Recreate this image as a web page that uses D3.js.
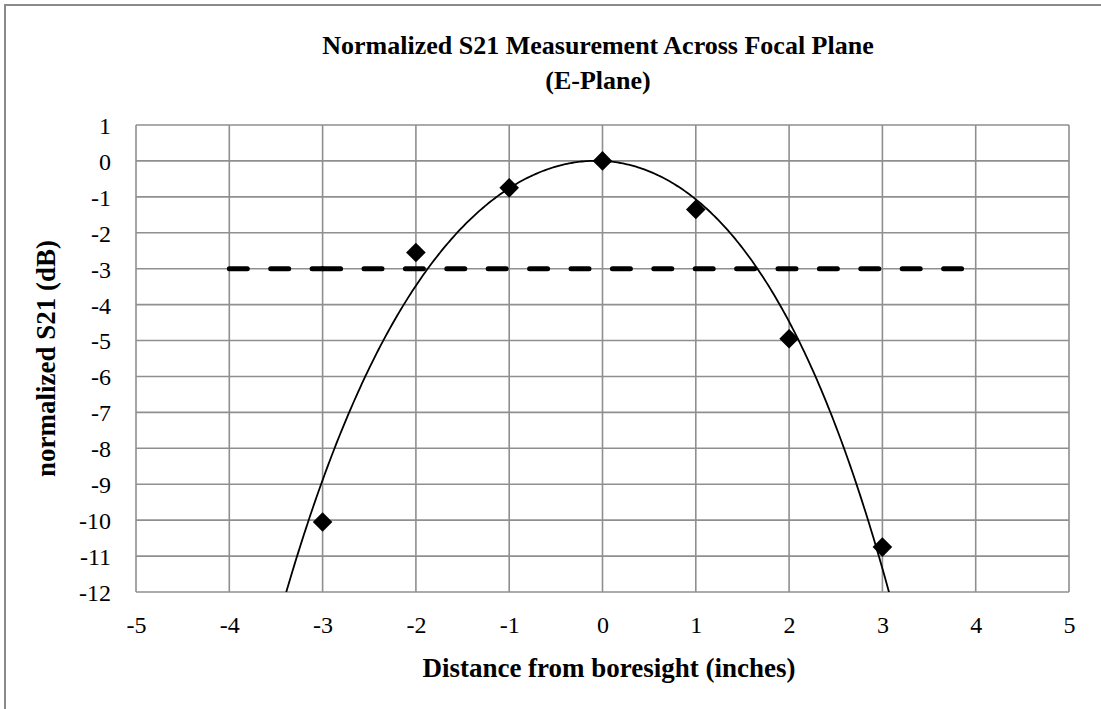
<!DOCTYPE html>
<html>
<head>
<meta charset="utf-8">
<script src="https://cdn.jsdelivr.net/npm/d3@7"></script>
<style>
  html, body { margin: 0; padding: 0; background: #fff; }
  svg { display: block; }
  svg text { font-family: "Liberation Serif", "Times New Roman", Times, "DejaVu Serif", serif !important; fill: #000; }
</style>
</head>
<body>
<svg id="chart" width="1101" height="709"></svg>
<script>
// ---- data ----
const titleLines = ["Normalized S21 Measurement Across Focal Plane", "(E-Plane)"];
const xAxisTitle = "Distance from boresight (inches)";
const yAxisTitle = "normalized S21 (dB)";
const xTicks = [-5, -4, -3, -2, -1, 0, 1, 2, 3, 4, 5];
const yTicks = [1, 0, -1, -2, -3, -4, -5, -6, -7, -8, -9, -10, -11, -12];
const measX = [-3, -2, -1, 0, 1, 2, 3];
const measY = [-10.05, -2.55, -0.75, 0, -1.35, -4.95, -10.75];
// -3 dB reference line vertices
const refX = [-4, -3, 4];
const refY = [-3, -3, -3];
// polynomial trendline coefficients (c0 + c1 x + c2 x^2 + c3 x^3 + c4 x^4)
const trendCoef = [0.0, -0.123, -0.889, -0.0319, -0.0261];

// ---- layout ----
const svg = d3.select("#chart");
const x = d3.scaleLinear().domain([-5, 5]).range([136, 1069]);
const y = d3.scaleLinear().domain([-12, 1]).range([592, 125]);
const gridColor = "#8f8f8f";
const serif = "'Liberation Serif', 'Times New Roman', serif";

// outer frame (top + left visible)
svg.append("rect").attr("x", 5).attr("y", 5).attr("width", 1300).attr("height", 900)
  .attr("fill", "none").attr("stroke", "#8a8a8a").attr("stroke-width", 2);

// clip
svg.append("clipPath").attr("id", "plotClip").append("rect")
  .attr("x", x(-5)).attr("y", y(1)).attr("width", x(5) - x(-5)).attr("height", y(-12) - y(1));

// grid
const grid = svg.append("g");
grid.selectAll("line.v").data(xTicks).join("line")
  .attr("x1", d => x(d)).attr("x2", d => x(d)).attr("y1", y(1)).attr("y2", y(-12))
  .attr("stroke", gridColor).attr("stroke-width", 1.6);
grid.selectAll("line.h").data(yTicks).join("line")
  .attr("y1", d => y(d)).attr("y2", d => y(d)).attr("x1", x(-5)).attr("x2", x(5))
  .attr("stroke", gridColor).attr("stroke-width", 1.6);

// axes labels using d3 axes (no domain/ticks lines)
const fmt = d => String(d);
const xAxis = svg.append("g").attr("transform", `translate(0,${y(-12)})`)
  .call(d3.axisBottom(x).tickValues(xTicks).tickSize(0).tickPadding(24).tickFormat(fmt));
const yAxis = svg.append("g").attr("transform", `translate(${x(-5)},0)`)
  .call(d3.axisLeft(y).tickValues(yTicks).tickSize(0).tickPadding(25).tickFormat(fmt));
[xAxis, yAxis].forEach(g => {
  g.attr("font-family", serif).attr("font-size", 24);
  g.select(".domain").remove();
  g.selectAll("text").attr("fill", "#000");
});
yAxis.selectAll("text").attr("dy", "0.35em");

// -3 dB reference line, dash pattern restarts at each vertex
const refPts = refX.map((d, i) => [d, refY[i]]);
const refLine = d3.line().x(d => x(d[0])).y(d => y(d[1]));
for (let i = 0; i < refPts.length - 1; i++) {
  svg.append("path").attr("d", refLine([refPts[i], refPts[i + 1]]))
    .attr("fill", "none").attr("stroke", "#000").attr("stroke-width", 5)
    .attr("stroke-linecap", "round").attr("stroke-dasharray", "18,23.4");
}

// trendline
const trendFn = v => trendCoef.reduce((s, c, k) => s + c * Math.pow(v, k), 0);
const trendPts = d3.range(-3.6, 3.3001, 0.02).map(v => [v, trendFn(v)]);
svg.append("path").attr("clip-path", "url(#plotClip)")
  .attr("d", d3.line().x(d => x(d[0])).y(d => y(d[1]))(trendPts))
  .attr("fill", "none").attr("stroke", "#000").attr("stroke-width", 1.8);

// markers (diamonds)
const r = 9.8;
svg.append("g").selectAll("path").data(measX.map((d, i) => [d, measY[i]])).join("path")
  .attr("d", d => {
    const cx = x(d[0]), cy = y(d[1]);
    return `M${cx},${cy - r}L${cx + r},${cy}L${cx},${cy + r}L${cx - r},${cy}Z`;
  })
  .attr("fill", "#000");

// titles
const T = svg.append("g").attr("font-family", serif).attr("font-weight", "bold");
T.append("text").attr("x", 598).attr("y", 54).attr("text-anchor", "middle")
  .attr("font-size", 26).text(titleLines[0]);
T.append("text").attr("x", 598).attr("y", 89).attr("text-anchor", "middle")
  .attr("font-size", 26).text(titleLines[1]);
T.append("text").attr("x", 609).attr("y", 677).attr("text-anchor", "middle")
  .attr("font-size", 27).text(xAxisTitle);
T.append("text").attr("transform", `translate(55,${(y(1) + y(-12)) / 2}) rotate(-90)`)
  .attr("text-anchor", "middle").attr("font-size", 27).text(yAxisTitle);
</script>
</body>
</html>
